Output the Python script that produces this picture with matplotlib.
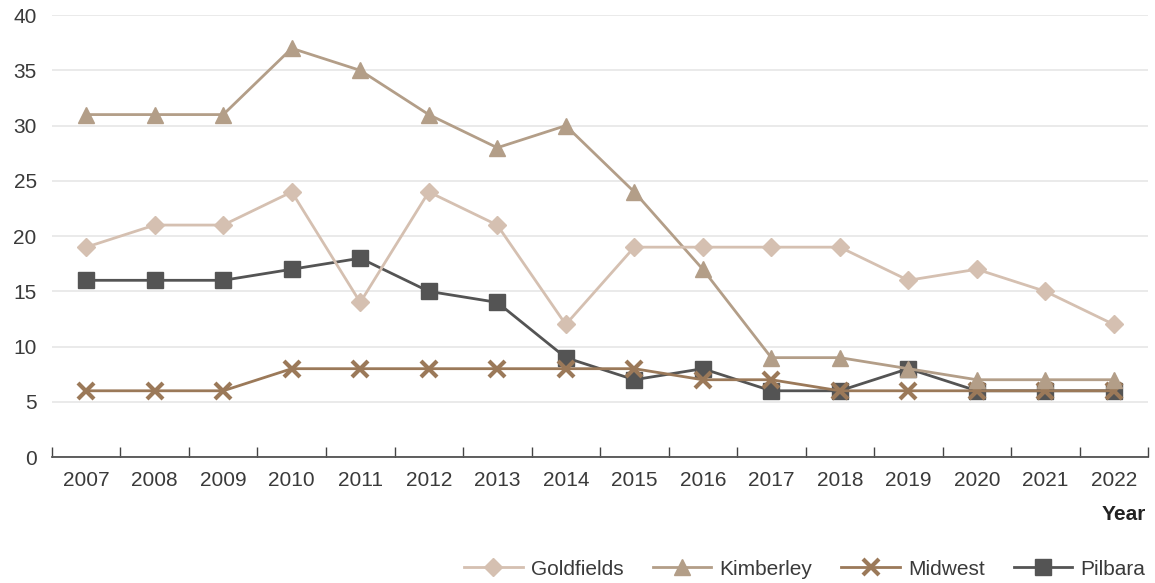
#!/usr/bin/env python3

import numpy
import matplotlib
matplotlib.use("Agg")
import matplotlib.pyplot as pyplot

FIG_SIZE = (11.55, 5.83)

years = ["2007", "2008", "2009", "2010", "2011", "2012", "2013", "2014",
         "2015", "2016", "2017", "2018", "2019", "2020", "2021", "2022"]
goldfields = [19, 21, 21, 24, 14, 24, 21, 12, 19, 19, 19, 19, 16, 17, 15, 12]
kimberley = [31, 31, 31, 37, 35, 31, 28, 30, 24, 17, 9, 9, 8, 7, 7, 7]
midwest = [6, 6, 6, 8, 8, 8, 8, 8, 8, 7, 7, 6, 6, 6, 6, 6]
pilbara = [16, 16, 16, 17, 18, 15, 14, 9, 7, 8, 6, 6, 8, 6, 6, 6]

TEXT = "#3a3a3a"

pyplot.rcParams["font.family"] = ["Liberation Sans", "DejaVu Sans"]

figure = pyplot.figure(figsize=FIG_SIZE, dpi=100)
ax = figure.add_axes([0.045, 0.216, 0.949, 0.758])

x = numpy.arange(len(years))
ax.plot(x, goldfields, color="#d5c0b1", lw=2, marker="D", ms=9, zorder=6, label="Goldfields")
ax.plot(x, kimberley, color="#b39e88", lw=2, marker="^", ms=11, zorder=5, label="Kimberley")
ax.plot(x, midwest, color="#9b7959", lw=2, marker="x", ms=11, mew=3, zorder=4, label="Midwest")
ax.plot(x, pilbara, color="#545454", lw=2, marker="s", ms=12, zorder=3, label="Pilbara")

ax.set_xlim(-0.5, len(years) - 0.5)
ax.set_ylim(0, 40)
ax.set_yticks(range(0, 41, 5))
ax.grid(axis="y", color="#e6e6e6", lw=1.2)
ax.set_axisbelow(True)

ax.set_xticks(numpy.arange(-0.5, len(years), 1.0))
ax.set_xticklabels([])
ax.set_xticks(x, minor=True)
ax.set_xticklabels(years, minor=True)
ax.tick_params(axis="x", which="major", direction="in", length=7, width=1, color="#444444")
ax.tick_params(axis="x", which="minor", length=0, pad=10, labelsize=15, labelcolor=TEXT)
ax.tick_params(axis="y", length=0, pad=11, labelsize=15, labelcolor=TEXT)

for side in ("top", "right", "left"):
    ax.spines[side].set_visible(False)
ax.spines["bottom"].set_color("#444444")
ax.spines["bottom"].set_linewidth(1.2)

figure.text(0.973, 0.117, "Year", ha="center", va="center", fontsize=15,
            fontweight="bold", color="#222222")

legend = figure.legend(loc="center right", bbox_to_anchor=(1.008, 0.024), ncol=4,
                       frameon=False, fontsize=15, handlelength=2.8,
                       columnspacing=1.4, handletextpad=0.4, labelcolor=TEXT)

figure.savefig("out.png", dpi=100)
